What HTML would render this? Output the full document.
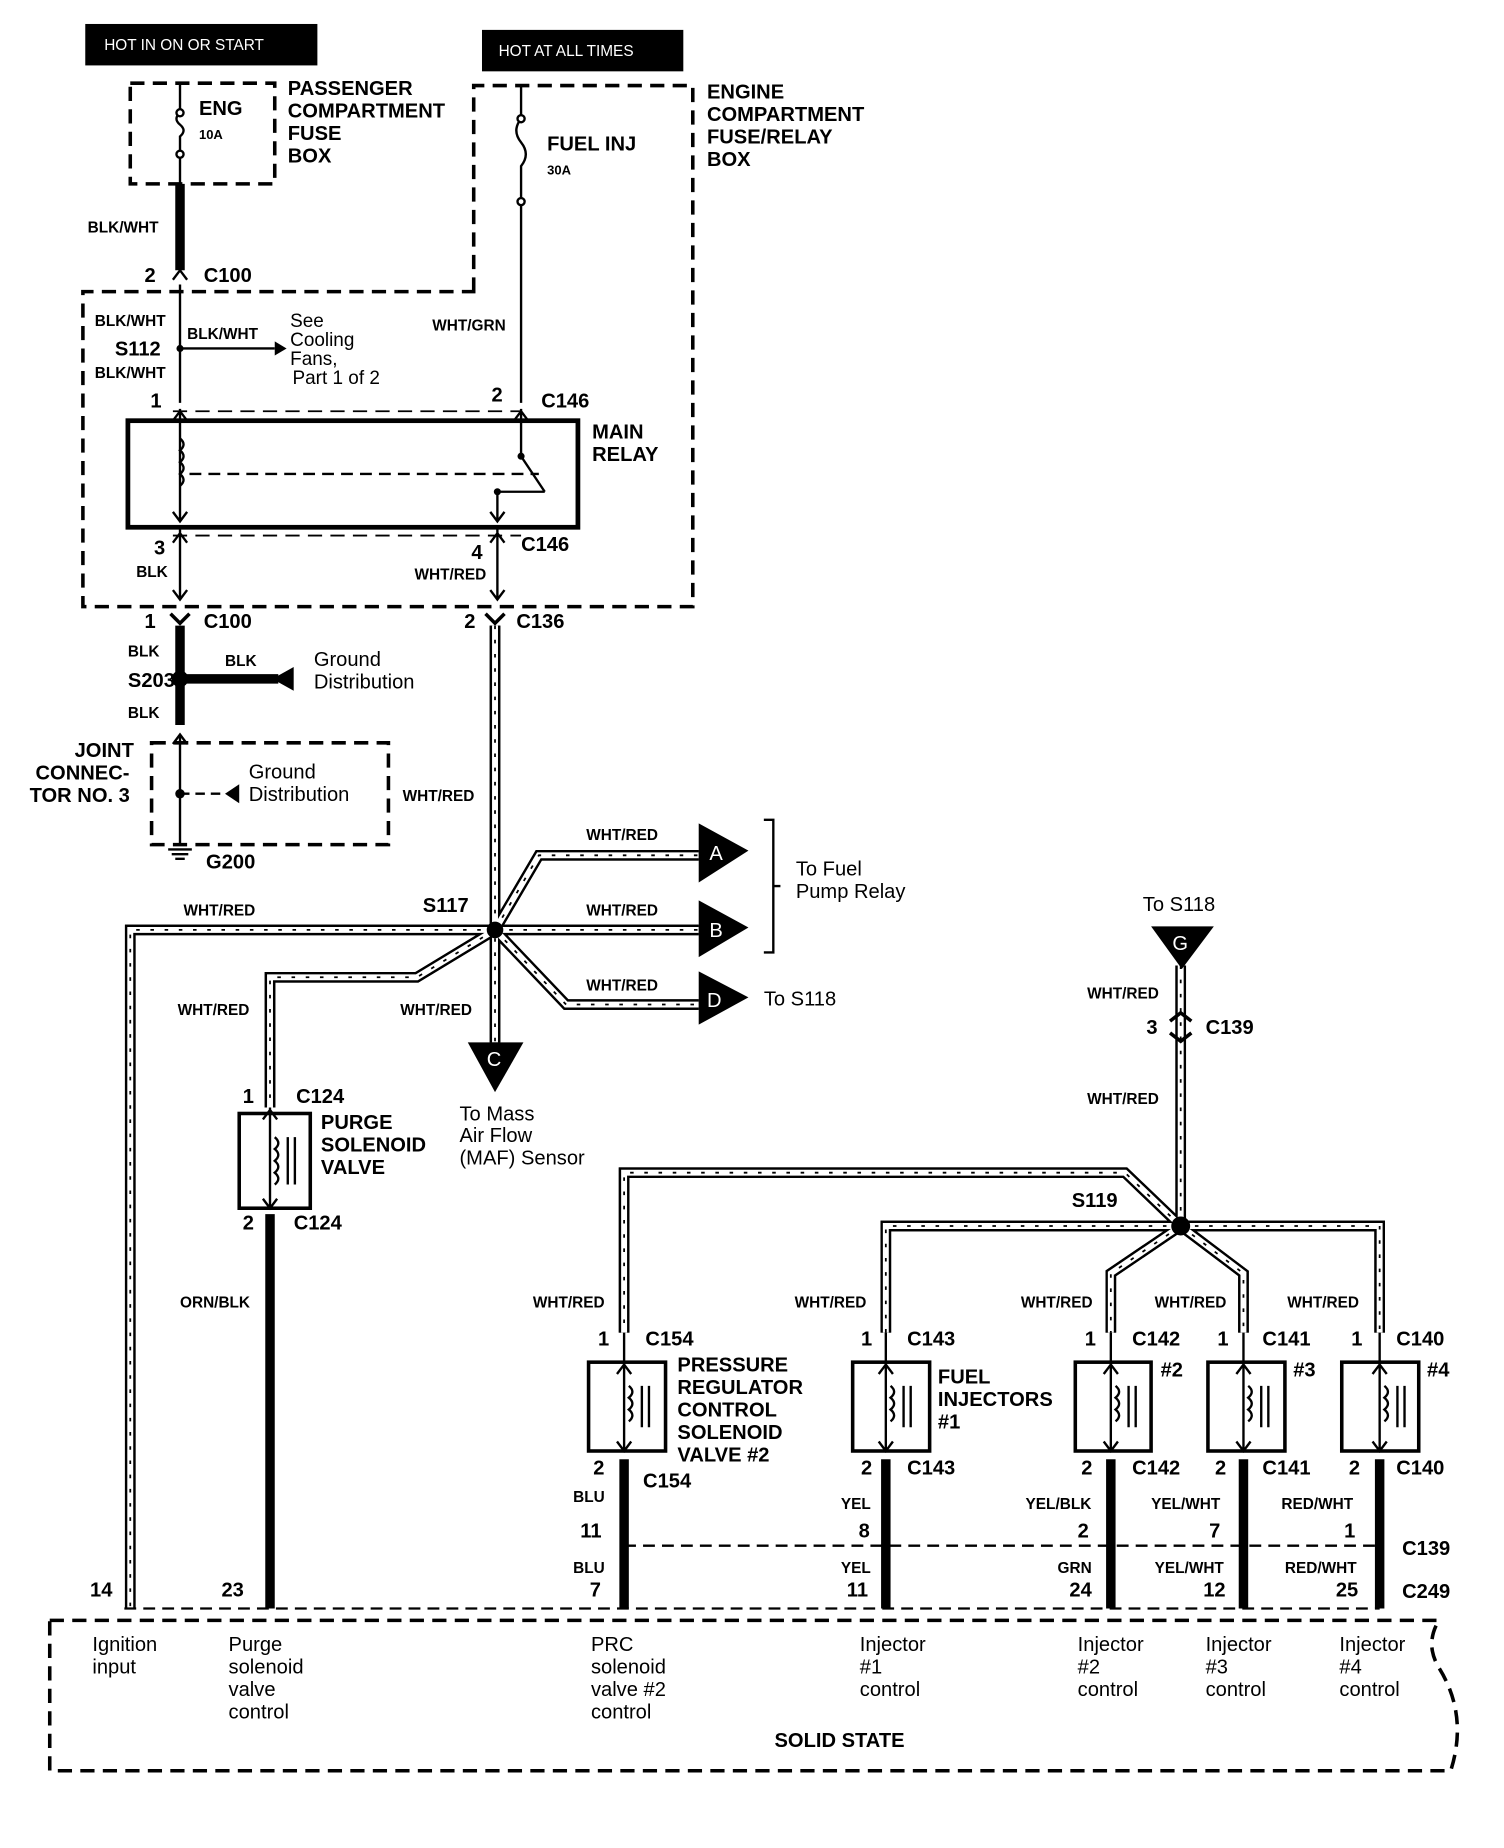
<!DOCTYPE html>
<html><head><meta charset="utf-8"><style>
html,body{margin:0;padding:0;background:#fff;}
svg{display:block;}
text{font-family:"Liberation Sans",Arial,sans-serif;fill:#000;}
.b{font-weight:bold;}
</style></head><body>
<svg width="1504" height="1848" viewBox="0 0 1270 1560" xmlns="http://www.w3.org/2000/svg">
<defs>
<g id="w"></g>
</defs>
<style>
.wo{fill:none;stroke:#000;stroke-width:9;}
.wi{fill:none;stroke:#fff;stroke-width:5;}
.wd{fill:none;stroke:#000;stroke-width:1.5;stroke-dasharray:3 9;}
.th{fill:none;stroke:#000;stroke-width:8;}
.ds{fill:none;stroke:#000;stroke-width:3;stroke-dasharray:12 7;}
.ln{fill:none;stroke:#000;stroke-width:2;}
</style>
<!-- header boxes -->
<rect x="72" y="20" width="196" height="35" fill="#000"/>
<text x="88" y="42" font-size="13" style="fill:#fff">HOT IN ON OR START</text>
<rect x="407" y="25" width="170" height="35" fill="#000"/>
<text x="421" y="47" font-size="13" style="fill:#fff">HOT AT ALL TIMES</text>

<!-- passenger fuse box -->
<rect x="110" y="70" width="122" height="85" class="ds"/>
<path d="M152 70 V95 q-6 5 0 10 q6 5 0 10 V155" class="ln"/>
<circle cx="152" cy="95" r="3" fill="#fff" stroke="#000" stroke-width="2"/>
<circle cx="152" cy="130" r="3" fill="#fff" stroke="#000" stroke-width="2"/>
<text x="168" y="97" font-size="17" class="b">ENG</text>
<text x="168" y="117" font-size="11" class="b">10A</text>
<text x="243" y="80" font-size="17" class="b">PASSENGER</text>
<text x="243" y="99" font-size="17" class="b">COMPARTMENT</text>
<text x="243" y="118" font-size="17" class="b">FUSE</text>
<text x="243" y="137" font-size="17" class="b">BOX</text>

<!-- engine compartment box -->
<path d="M400 246 V72 H585 V512 H70 V246 Z" class="ds"/>
<text x="597" y="83" font-size="17" class="b">ENGINE</text>
<text x="597" y="102" font-size="17" class="b">COMPARTMENT</text>
<text x="597" y="121" font-size="17" class="b">FUSE/RELAY</text>
<text x="597" y="140" font-size="17" class="b">BOX</text>
<path d="M440 72 V100 q-8 10 0 20 q8 10 0 20 V340" class="ln"/>
<circle cx="440" cy="100" r="3" fill="#fff" stroke="#000" stroke-width="2"/>
<circle cx="440" cy="170" r="3" fill="#fff" stroke="#000" stroke-width="2"/>
<text x="462" y="127" font-size="17" class="b">FUEL INJ</text>
<text x="462" y="147" font-size="11" class="b">30A</text>
<text x="365" y="279" font-size="13" class="b">WHT/GRN</text>

<!-- BLK/WHT wire -->
<path d="M152 155 V228" class="th"/>
<path d="M146 236 l6 -8 l6 8" class="ln"/>
<path d="M152 240 V340" class="ln"/>
<text x="74" y="196" font-size="13" class="b">BLK/WHT</text>
<text x="122" y="238" font-size="17" class="b">2</text>
<text x="172" y="238" font-size="17" class="b">C100</text>
<text x="80" y="275" font-size="13" class="b">BLK/WHT</text>
<text x="97" y="300" font-size="17" class="b">S112</text>
<text x="80" y="319" font-size="13" class="b">BLK/WHT</text>
<circle cx="152" cy="294" r="3" fill="#000"/>
<path d="M152 294 H232" class="ln"/><path d="M232 288 l10 6 l-10 6 z" fill="#000"/>
<text x="158" y="286" font-size="13" class="b">BLK/WHT</text>
<text x="245" y="276" font-size="16">See</text>
<text x="245" y="292" font-size="16">Cooling</text>
<text x="245" y="308" font-size="16">Fans,</text>
<text x="247" y="324" font-size="16">Part 1 of 2</text>
<text x="127" y="344" font-size="17" class="b">1</text>
<text x="415" y="339" font-size="17" class="b">2</text>
<text x="457" y="344" font-size="17" class="b">C146</text>
<path d="M146 347 H440" class="ds" style="stroke-width:1.5"/>

<!-- main relay -->
<rect x="108" y="355" width="380" height="90" fill="none" stroke="#000" stroke-width="4"/>
<text x="500" y="370" font-size="17" class="b">MAIN</text>
<text x="500" y="389" font-size="17" class="b">RELAY</text>
<path d="M152 345 V440 M146 355 l6 -8 l6 8 M146 432 l6 8 l6 -8" class="ln"/>
<path d="M152 370 q6 5 0 10 q6 5 0 10 q6 5 0 10 q6 5 0 10" class="ln"/>
<path d="M440 345 V385 l20 30 M434 355 l6 -8 l6 8" class="ln"/>
<path d="M160 400 H455" class="ln" style="stroke-dasharray:10 6"/>
<path d="M420 415 H460 M420 415 V440 M414 432 l6 8 l6 -8" class="ln"/>
<circle cx="420" cy="415" r="3" fill="#000"/><circle cx="440" cy="385" r="3" fill="#000"/>
<path d="M152 445 V505 M420 445 V505 M146 458 l6 -8 l6 8 M414 458 l6 -8 l6 8 M146 498 l6 8 l6 -8 M414 498 l6 8 l6 -8" class="ln"/>
<path d="M146 452 H440" class="ds" style="stroke-width:1.5"/>
<text x="130" y="468" font-size="17" class="b">3</text>
<text x="115" y="487" font-size="13" class="b">BLK</text>
<text x="398" y="472" font-size="17" class="b">4</text>
<text x="350" y="489" font-size="13" class="b">WHT/RED</text>
<text x="440" y="465" font-size="17" class="b">C146</text>

<text x="122" y="530" font-size="17" class="b">1</text>
<text x="172" y="530" font-size="17" class="b">C100</text>
<text x="392" y="530" font-size="17" class="b">2</text>
<text x="436" y="530" font-size="17" class="b">C136</text>
<path d="M144 518 l8 8 l8 -8 M410 518 l8 8 l8 -8" class="ln" style="stroke-width:3"/>

<!-- BLK to ground -->
<path d="M152 528 V612" class="th"/>
<circle cx="152" cy="573" r="7" fill="#000"/>
<path d="M152 573 H235" class="th"/>
<path d="M248 563 l-18 10 l18 10 z" fill="#000"/>
<text x="108" y="554" font-size="13" class="b">BLK</text>
<text x="108" y="606" font-size="13" class="b">BLK</text>
<text x="108" y="580" font-size="17" class="b">S203</text>
<text x="190" y="562" font-size="13" class="b">BLK</text>
<text x="265" y="562" font-size="17">Ground</text>
<text x="265" y="581" font-size="17">Distribution</text>
<path d="M146 628 l6 -8 l6 8" class="ln"/>
<rect x="128" y="627" width="200" height="86" class="ds"/>
<path d="M152 620 V712" class="ln"/>
<circle cx="152" cy="670" r="4" fill="#000"/>
<path d="M152 670 H190" class="ln" style="stroke-dasharray:8 5"/>
<path d="M202 662 l-12 8 l12 8 z" fill="#000"/>
<text x="210" y="657" font-size="17">Ground</text>
<text x="210" y="676" font-size="17">Distribution</text>
<text x="63" y="639" font-size="17" class="b">JOINT</text>
<text x="30" y="658" font-size="17" class="b">CONNEC-</text>
<text x="25" y="677" font-size="17" class="b">TOR NO. 3</text>
<path d="M142 717 H162 M145 721 H159 M148 725 H156" class="ln"/>
<text x="174" y="733" font-size="17" class="b">G200</text>

<!-- WHT/RED wires -->
<g>
<path id="wr" d="M418 528 V880
 M418 785 L455 722 H590
 M418 785 H590
 M418 785 L478 848 H590
 M418 785 L110 785 V1358
 M418 785 L352 825 H228 V935
 M997 815 V1035
 M997 1035 L950 990 H527 V1125
 M997 1035 L980 1035 M997 1035 H748 V1125
 M997 1035 L938 1075 V1125
 M997 1035 L1050 1075 V1125
 M997 1035 H1165 V1125" class="wo"/>
<use href="#wr" class="wi"/>
</g>
<path d="M418 528 V880 M418 785 L455 722 H590 M418 785 H590 M418 785 L478 848 H590 M418 785 L110 785 V1358 M418 785 L352 825 H228 V935 M997 815 V1035 M997 1035 L950 990 H527 V1125 M997 1035 H748 V1125 M997 1035 L938 1075 V1125 M997 1035 L1050 1075 V1125 M997 1035 H1165 V1125" class="wi"/>
<path d="M418 528 V880 M418 785 L455 722 H590 M418 785 H590 M418 785 L478 848 H590 M418 785 L110 785 V1358 M418 785 L352 825 H228 V935 M997 815 V1035 M997 1035 L950 990 H527 V1125 M997 1035 H748 V1125 M997 1035 L938 1075 V1125 M997 1035 L1050 1075 V1125 M997 1035 H1165 V1125" class="wd"/>
<circle cx="418" cy="785" r="7" fill="#000"/>
<circle cx="997" cy="1035" r="8" fill="#000"/>
<text x="340" y="676" font-size="13" class="b">WHT/RED</text>
<text x="357" y="770" font-size="17" class="b">S117</text>
<text x="155" y="773" font-size="13" class="b">WHT/RED</text>
<text x="495" y="709" font-size="13" class="b">WHT/RED</text>
<text x="495" y="773" font-size="13" class="b">WHT/RED</text>
<text x="495" y="836" font-size="13" class="b">WHT/RED</text>
<text x="150" y="857" font-size="13" class="b">WHT/RED</text>
<text x="338" y="857" font-size="13" class="b">WHT/RED</text>

<!-- A B D arrows -->
<path d="M590 695 L632 718 L590 745 Z M590 760 L632 783 L590 808 Z M590 820 L632 842 L590 865 Z" fill="#000"/>
<text x="599" y="726" font-size="17" style="fill:#fff">A</text>
<text x="599" y="791" font-size="17" style="fill:#fff">B</text>
<text x="597" y="850" font-size="17" style="fill:#fff">D</text>
<path d="M645 692 h8 v112 h-8 M653 748 h6" class="ln"/>
<text x="672" y="739" font-size="17">To Fuel</text>
<text x="672" y="758" font-size="17">Pump Relay</text>
<text x="645" y="849" font-size="17">To S118</text>

<!-- C -->
<path d="M395 880 H442 L418 922 Z" fill="#000"/>
<text x="411" y="900" font-size="17" style="fill:#fff">C</text>
<text x="388" y="946" font-size="17">To Mass</text>
<text x="388" y="964" font-size="17">Air Flow</text>
<text x="388" y="983" font-size="17">(MAF) Sensor</text>

<!-- Purge valve -->
<text x="205" y="931" font-size="17" class="b">1</text>
<text x="250" y="931" font-size="17" class="b">C124</text>
<rect x="202" y="940" width="60" height="80" fill="none" stroke="#000" stroke-width="3"/>
<path d="M228 935 V1020 M222 945 l6 -8 l6 8 M222 1012 l6 8 l6 -8" class="ln"/>
<path d="M232 960 q6 5 0 10 q6 5 0 10 q6 5 0 10 q6 5 0 10 M243 960 V1000 M249 960 V1000" class="ln"/>
<text x="271" y="953" font-size="17" class="b">PURGE</text>
<text x="271" y="972" font-size="17" class="b">SOLENOID</text>
<text x="271" y="991" font-size="17" class="b">VALVE</text>
<text x="205" y="1038" font-size="17" class="b">2</text>
<text x="248" y="1038" font-size="17" class="b">C124</text>
<path d="M228 1025 V1358" class="th"/>
<text x="152" y="1104" font-size="13" class="b">ORN/BLK</text>

<!-- G -->
<path d="M972 782 H1025 L998 818 Z" fill="#000"/>
<text x="990" y="802" font-size="17" style="fill:#fff">G</text>
<text x="965" y="769" font-size="17">To S118</text>
<text x="918" y="843" font-size="13" class="b">WHT/RED</text>
<text x="968" y="873" font-size="17" class="b">3</text>
<text x="1018" y="873" font-size="17" class="b">C139</text>
<path d="M988 862 l9 -7 l9 7 M988 872 l9 7 l9 -7" class="ln" style="stroke-width:3"/>
<text x="918" y="932" font-size="13" class="b">WHT/RED</text>
<text x="905" y="1019" font-size="17" class="b">S119</text>

<!-- PRC valve -->
<text x="450" y="1104" font-size="13" class="b">WHT/RED</text>
<text x="505" y="1136" font-size="17" class="b">1</text>
<text x="545" y="1136" font-size="17" class="b">C154</text>
<rect x="497" y="1150" width="65" height="75" fill="none" stroke="#000" stroke-width="3"/>
<text x="572" y="1158" font-size="17" class="b">PRESSURE</text>
<text x="572" y="1177" font-size="17" class="b">REGULATOR</text>
<text x="572" y="1196" font-size="17" class="b">CONTROL</text>
<text x="572" y="1215" font-size="17" class="b">SOLENOID</text>
<text x="572" y="1234" font-size="17" class="b">VALVE #2</text>
<text x="501" y="1245" font-size="17" class="b">2</text>
<text x="543" y="1256" font-size="17" class="b">C154</text>

<!-- injectors -->
<text x="671" y="1104" font-size="13" class="b">WHT/RED</text>
<text x="727" y="1136" font-size="17" class="b">1</text>
<text x="766" y="1136" font-size="17" class="b">C143</text>
<rect x="720" y="1150" width="65" height="75" fill="none" stroke="#000" stroke-width="3"/>
<text x="792" y="1168" font-size="17" class="b">FUEL</text>
<text x="792" y="1187" font-size="17" class="b">INJECTORS</text>
<text x="792" y="1206" font-size="17" class="b">#1</text>
<text x="727" y="1245" font-size="17" class="b">2</text>
<text x="766" y="1245" font-size="17" class="b">C143</text>

<text x="862" y="1104" font-size="13" class="b">WHT/RED</text>
<text x="916" y="1136" font-size="17" class="b">1</text>
<text x="956" y="1136" font-size="17" class="b">C142</text>
<rect x="908" y="1150" width="64" height="75" fill="none" stroke="#000" stroke-width="3"/>
<text x="980" y="1162" font-size="17" class="b">#2</text>
<text x="913" y="1245" font-size="17" class="b">2</text>
<text x="956" y="1245" font-size="17" class="b">C142</text>

<text x="975" y="1104" font-size="13" class="b">WHT/RED</text>
<text x="1028" y="1136" font-size="17" class="b">1</text>
<text x="1066" y="1136" font-size="17" class="b">C141</text>
<rect x="1020" y="1150" width="65" height="75" fill="none" stroke="#000" stroke-width="3"/>
<text x="1092" y="1162" font-size="17" class="b">#3</text>
<text x="1026" y="1245" font-size="17" class="b">2</text>
<text x="1066" y="1245" font-size="17" class="b">C141</text>

<text x="1087" y="1104" font-size="13" class="b">WHT/RED</text>
<text x="1141" y="1136" font-size="17" class="b">1</text>
<text x="1179" y="1136" font-size="17" class="b">C140</text>
<rect x="1133" y="1150" width="65" height="75" fill="none" stroke="#000" stroke-width="3"/>
<text x="1205" y="1162" font-size="17" class="b">#4</text>
<text x="1139" y="1245" font-size="17" class="b">2</text>
<text x="1179" y="1245" font-size="17" class="b">C140</text>

<!-- coil symbols in valves -->
<g class="ln">
<path d="M527 1125 V1225 M521 1160 l6 -8 l6 8 M521 1217 l6 8 l6 -8 M531 1170 q6 5 0 10 q6 5 0 10 q6 5 0 10 M542 1170 V1205 M548 1170 V1205"/>
<path d="M748 1125 V1225 M742 1160 l6 -8 l6 8 M742 1217 l6 8 l6 -8 M752 1170 q6 5 0 10 q6 5 0 10 q6 5 0 10 M763 1170 V1205 M769 1170 V1205"/>
<path d="M938 1125 V1225 M932 1160 l6 -8 l6 8 M932 1217 l6 8 l6 -8 M942 1170 q6 5 0 10 q6 5 0 10 q6 5 0 10 M953 1170 V1205 M959 1170 V1205"/>
<path d="M1050 1125 V1225 M1044 1160 l6 -8 l6 8 M1044 1217 l6 8 l6 -8 M1054 1170 q6 5 0 10 q6 5 0 10 q6 5 0 10 M1065 1170 V1205 M1071 1170 V1205"/>
<path d="M1165 1125 V1225 M1159 1160 l6 -8 l6 8 M1159 1217 l6 8 l6 -8 M1169 1170 q6 5 0 10 q6 5 0 10 q6 5 0 10 M1180 1170 V1205 M1186 1170 V1205"/>
</g>

<!-- bottom thick wires -->
<path d="M527 1232 V1358 M748 1232 V1358 M938 1232 V1358 M1050 1232 V1358 M1165 1232 V1358" class="th"/>
<path d="M527 1305 H1165" class="ln" style="stroke-dasharray:10 6"/>
<text x="484" y="1268" font-size="13" class="b">BLU</text>
<text x="490" y="1298" font-size="17" class="b">11</text>
<text x="484" y="1328" font-size="13" class="b">BLU</text>
<text x="498" y="1348" font-size="17" class="b">7</text>
<text x="710" y="1274" font-size="13" class="b">YEL</text>
<text x="725" y="1298" font-size="17" class="b">8</text>
<text x="710" y="1328" font-size="13" class="b">YEL</text>
<text x="715" y="1348" font-size="17" class="b">11</text>
<text x="866" y="1274" font-size="13" class="b">YEL/BLK</text>
<text x="910" y="1298" font-size="17" class="b">2</text>
<text x="893" y="1328" font-size="13" class="b">GRN</text>
<text x="903" y="1348" font-size="17" class="b">24</text>
<text x="972" y="1274" font-size="13" class="b">YEL/WHT</text>
<text x="1021" y="1298" font-size="17" class="b">7</text>
<text x="975" y="1328" font-size="13" class="b">YEL/WHT</text>
<text x="1016" y="1348" font-size="17" class="b">12</text>
<text x="1082" y="1274" font-size="13" class="b">RED/WHT</text>
<text x="1135" y="1298" font-size="17" class="b">1</text>
<text x="1085" y="1328" font-size="13" class="b">RED/WHT</text>
<text x="1128" y="1348" font-size="17" class="b">25</text>
<text x="1184" y="1313" font-size="17" class="b">C139</text>
<text x="1184" y="1349" font-size="17" class="b">C249</text>
<text x="76" y="1348" font-size="17" class="b">14</text>
<text x="187" y="1348" font-size="17" class="b">23</text>
<path d="M105 1358 H1165" class="ln" style="stroke-dasharray:10 6"/>

<!-- solid state box -->
<path d="M42 1368 H1215 q-12 20 0 40 q25 40 10 87 H42 Z" class="ds"/>
<g font-size="17">
<text x="78" y="1394">Ignition</text><text x="78" y="1413">input</text>
<text x="193" y="1394">Purge</text><text x="193" y="1413">solenoid</text><text x="193" y="1432">valve</text><text x="193" y="1451">control</text>
<text x="499" y="1394">PRC</text><text x="499" y="1413">solenoid</text><text x="499" y="1432">valve #2</text><text x="499" y="1451">control</text>
<text x="726" y="1394">Injector</text><text x="726" y="1413">#1</text><text x="726" y="1432">control</text>
<text x="910" y="1394">Injector</text><text x="910" y="1413">#2</text><text x="910" y="1432">control</text>
<text x="1018" y="1394">Injector</text><text x="1018" y="1413">#3</text><text x="1018" y="1432">control</text>
<text x="1131" y="1394">Injector</text><text x="1131" y="1413">#4</text><text x="1131" y="1432">control</text>
</g>
<text x="654" y="1475" font-size="17" class="b">SOLID STATE</text>
</svg>
</body></html>
